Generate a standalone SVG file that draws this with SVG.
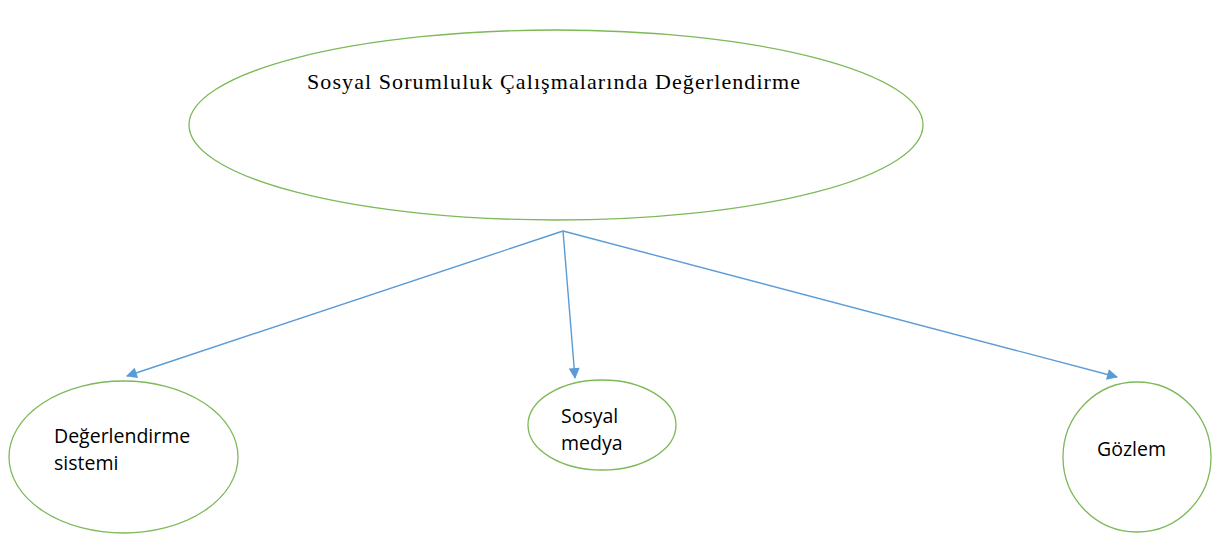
<svg xmlns="http://www.w3.org/2000/svg" width="1224" height="535" viewBox="0 0 1224 535">
<defs>
<style>
.node{fill:#fff;stroke:#7cb957;stroke-width:1.3}
.conn{stroke:#5b9bd5;stroke-width:1.4;fill:none}
.t1{font-family:"Liberation Serif",serif;font-size:22px;fill:#000}
.t2{font-family:"Open Sans","Liberation Sans",sans-serif;font-size:19.5px;fill:#000}
</style>
<marker id="ah" viewBox="0 0 10 10" refX="9" refY="5" markerWidth="12" markerHeight="11" orient="auto" markerUnits="userSpaceOnUse">
<path d="M0,0 L10,5 L0,10 z" fill="#5b9bd5"/>
</marker>
</defs>
<rect width="1224" height="535" fill="#fff"/>
<g id="main">
<ellipse class="node" cx="556" cy="125" rx="367" ry="95"/>
<text class="t1" x="307" y="89" textLength="493" lengthAdjust="spacing">Sosyal Sorumluluk Çalışmalarında Değerlendirme</text>
</g>
<g id="connectors">
<line class="conn" x1="563" y1="231" x2="127" y2="376" marker-end="url(#ah)"/>
<line class="conn" x1="563" y1="231" x2="575" y2="378" marker-end="url(#ah)"/>
<line class="conn" x1="563" y1="231" x2="1117" y2="377" marker-end="url(#ah)"/>
</g>
<g id="node-degerlendirme">
<ellipse class="node" cx="123.5" cy="457" rx="114.5" ry="76"/>
<text class="t2" x="54" y="443">Değerlendirme</text>
<text class="t2" x="54" y="470">sistemi</text>
</g>
<g id="node-sosyal">
<ellipse class="node" cx="602" cy="425" rx="74" ry="45"/>
<text class="t2" x="561" y="423">Sosyal</text>
<text class="t2" x="561" y="450">medya</text>
</g>
<g id="node-gozlem">
<ellipse class="node" cx="1137" cy="457" rx="74" ry="75"/>
<text class="t2" x="1097" y="456">Gözlem</text>
</g>
</svg>
